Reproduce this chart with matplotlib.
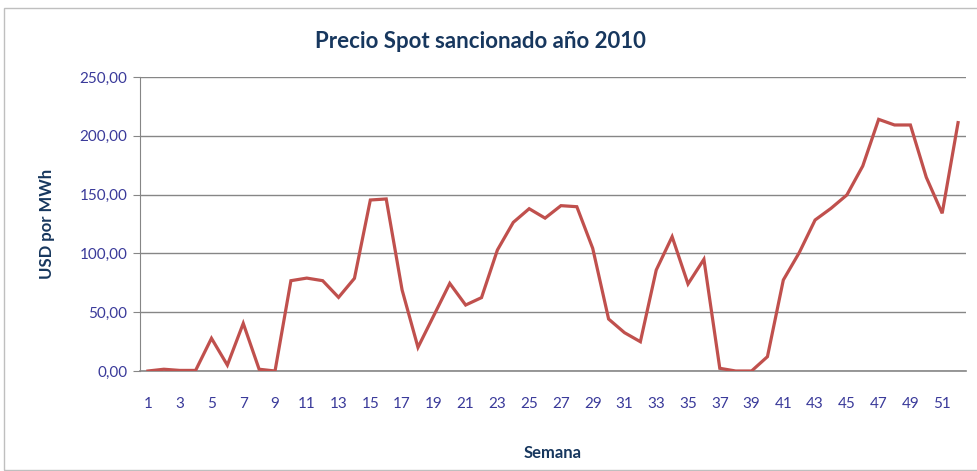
import numpy as np
import matplotlib.pyplot as plt
import matplotlib as mpl
from matplotlib.patches import Rectangle

mpl.rcParams['font.family'] = ['Lato', 'DejaVu Sans']

# weekly sanctioned spot price, 2010
semana = np.arange(1, 53)
precio = [0.0, 1.5, 0.5, 0.5, 27.8, 5.0, 40.5, 1.5, 0.0, 76.8,
          79.0, 76.8, 62.6, 78.8, 145.4, 146.3, 68.9, 20.1, 47.3, 74.5,
          56.1, 62.4, 102.9, 126.4, 138.0, 130.0, 140.6, 139.7, 104.3, 44.2,
          32.6, 24.9, 85.9, 114.2, 74.0, 95.0, 2.3, 0.0, 0.0, 12.2,
          77.4, 100.6, 128.4, 138.3, 149.7, 174.3, 214.0, 209.2, 209.2, 164.7,
          134.1, 211.2]
yticks = [0, 50, 100, 150, 200, 250]
xticks = list(range(1, 52, 2))

navy = '#17375E'
tickcol = '#3A3A9A'
gridcol = '#868686'

fig = plt.figure(figsize=(9.78, 4.71), dpi=100)
ax = fig.add_axes([140/978, 1-371/471, 826/978, 294/471])

ax.plot(semana, precio, color='#C0504D', lw=2.3, solid_joinstyle='miter', zorder=3)

ax.set_xlim(0.5, 52.5)
ax.set_ylim(0, 250)
ax.set_yticks(yticks)
ax.set_yticklabels([f'{v:.2f}'.replace('.', ',') for v in yticks])
ax.set_xticks(xticks)
ax.grid(axis='y', color=gridcol, lw=1)
ax.set_axisbelow(True)

for s in ['top', 'right']:
    ax.spines[s].set_visible(False)
ax.spines['left'].set_color(gridcol)
ax.spines['bottom'].set_color(gridcol)
ax.spines['bottom'].set_linewidth(1.2)
ax.tick_params(axis='y', colors=gridcol, labelcolor=tickcol, labelsize=11, length=5, pad=4)
ax.tick_params(axis='x', labelcolor=tickcol, labelsize=11, length=0, pad=19)

fig.text(480/978, 1-42/471, 'Precio Spot sancionado año 2010', color=navy, fontsize=16,
         fontweight='bold', ha='center', va='center')
ax.set_xlabel('Semana', color=navy, fontsize=12, fontweight='bold', labelpad=24)
ax.set_ylabel('USD por MWh', color=navy, fontsize=12, fontweight='bold', labelpad=18)

fig.patches.append(Rectangle((4/978, 1/471), 980/978, 462/471, transform=fig.transFigure,
                             fill=False, edgecolor='#BFBFBF', lw=1))

fig.savefig('out.png', dpi=100)
